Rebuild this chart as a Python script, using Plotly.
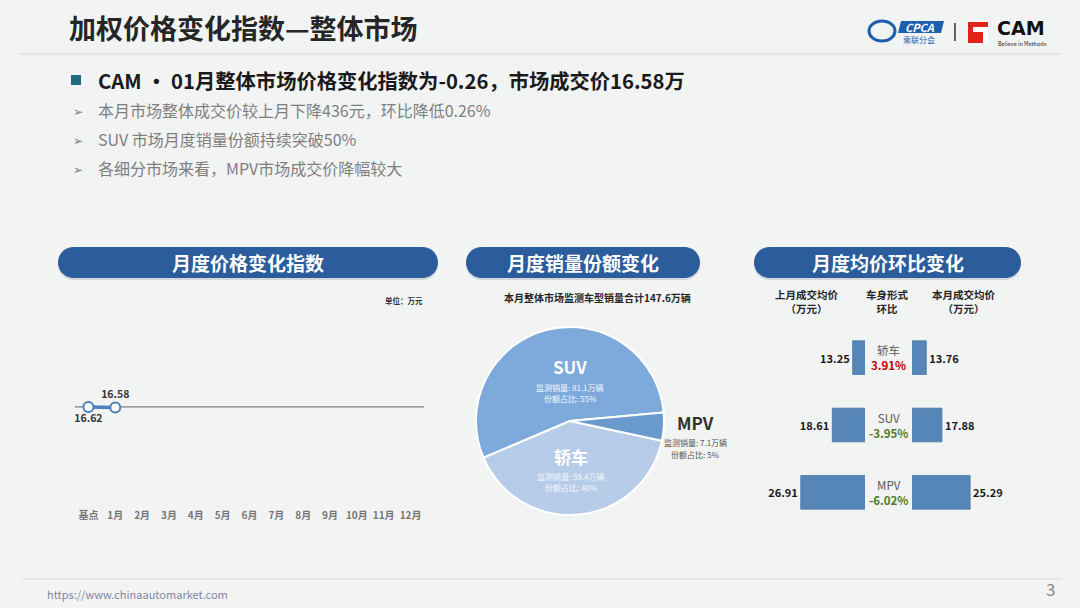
import math
import plotly.graph_objects as go

W, H = 1080, 608

# ---- data ----
months = ["基点", "1月", "2月", "3月", "4月", "5月", "6月", "7月", "8月", "9月", "10月", "11月", "12月"]
price_index = [16.62, 16.58]
base_price = 16.62

segments = ["SUV", "轿车", "MPV"]
sales = [81.1, 59.4, 7.1]
shares = [55, 40, 5]
total_sales = 147.6

body_types = ["轿车", "SUV", "MPV"]
last_month = [13.25, 18.61, 26.91]
this_month = [13.76, 17.88, 25.29]
mom_change = [3.91, -3.95, -6.02]

FONT = "Noto Sans CJK SC"
BLUE = "#2b5c9b"


def px(x):
    return x / W


def py(y):
    return 1 - y / H


def pill(x0, x1, y0, y1, n=18):
    # rounded header bar as a paper-coord path
    r = (y1 - y0) / 2
    cy = (y0 + y1) / 2
    pts = []
    for i in range(n + 1):
        a = -math.pi / 2 + math.pi * i / n
        pts.append((x1 - r + r * math.cos(a), cy + r * math.sin(a)))
    for i in range(n + 1):
        a = math.pi / 2 + math.pi * i / n
        pts.append((x0 + r + r * math.cos(a), cy + r * math.sin(a)))
    return "M " + " L ".join(f"{px(x):.5f},{py(y):.5f}" for x, y in pts) + " Z"


def note(x, y, text, size, color="#333333", anchor="center", bold=False, family=FONT):
    return dict(x=px(x), y=py(y), xref="paper", yref="paper", text=text, showarrow=False,
                xanchor=anchor, yanchor="middle",
                font=dict(family=family, size=size, color=color, weight="bold" if bold else "normal"))


fig = go.Figure()

# ---- monthly price index line ----
fig.add_trace(go.Scatter(
    x=list(range(len(price_index))), y=price_index, mode="lines+markers+text",
    text=[f"{v:.2f}" for v in price_index], textposition=["bottom center", "top center"],
    textfont=dict(family=FONT, size=10.5, color="#333333", weight="bold"),
    line=dict(color="#4f81bd", width=3.5),
    marker=dict(size=10, color="white", line=dict(color="#4a7ebb", width=2)),
    xaxis="x", yaxis="y", showlegend=False, cliponaxis=False))

# ---- sales share pie ----
fig.add_trace(go.Pie(
    labels=segments, values=sales, sort=False, direction="counterclockwise", rotation=-113,
    marker=dict(colors=["#7eaadb", "#b6cce8", "#6a9bcd"], line=dict(color="white", width=2)),
    textinfo="none", showlegend=False,
    domain=dict(x=[px(476), px(664)], y=[py(515), py(327)])))

# ---- average price butterfly ----
fig.add_trace(go.Bar(
    y=body_types, x=last_month, orientation="h", xaxis="x2", yaxis="y2",
    text=[f"{v:.2f}" for v in last_month], textposition="outside",
    textfont=dict(family=FONT, size=11, color="#1a1a1a", weight="bold"),
    marker=dict(color="#5686b8", line=dict(color="#4b77a5", width=0.8)), showlegend=False))
fig.add_trace(go.Bar(
    y=body_types, x=this_month, orientation="h", xaxis="x3", yaxis="y3",
    text=[f"{v:.2f}" for v in this_month], textposition="outside",
    textfont=dict(family=FONT, size=11, color="#1a1a1a", weight="bold"),
    marker=dict(color="#5686b8", line=dict(color="#4b77a5", width=0.8)), showlegend=False))

shapes = []
ann = []

# header area
ann.append(note(67, 27, "加权价格变化指数—整体市场", 27, "#262626", "left", True))
shapes.append(dict(type="line", xref="paper", yref="paper", x0=px(20), x1=px(1060), y0=py(54), y1=py(54),
                   line=dict(color="#d6d8da", width=1.2)))

# logos (drawn roughly)
shapes.append(dict(type="circle", xref="paper", yref="paper", x0=px(869), x1=px(895), y0=py(41), y1=py(21),
                   line=dict(color="#1f5fb0", width=3)))
shapes.append(dict(type="path", xref="paper", yref="paper",
                   path=f"M {px(901)},{py(21)} L {px(944)},{py(21)} L {px(941)},{py(33)} L {px(898)},{py(33)} Z",
                   fillcolor="#1f5fb0", line=dict(width=0)))
ann.append(note(920, 27, "<i>CPCA</i>", 11, "white", bold=True))
ann.append(note(919, 39, "乘联分会", 8, "#1f5fb0"))
shapes.append(dict(type="line", xref="paper", yref="paper", x0=px(955), x1=px(955), y0=py(23), y1=py(41),
                   line=dict(color="#333333", width=1.5)))
shapes.append(dict(type="rect", xref="paper", yref="paper", x0=px(968), x1=px(988), y0=py(43), y1=py(22),
                   fillcolor="#e0231b", line=dict(width=0)))
shapes.append(dict(type="path", xref="paper", yref="paper",
                   path=f"M {px(973)},{py(27)} L {px(988)},{py(27)} L {px(988)},{py(43)} L {px(983)},{py(43)} "
                        f"L {px(983)},{py(32)} L {px(973)},{py(32)} Z",
                   fillcolor="white", line=dict(width=0)))
ann.append(note(995, 28, "CAM", 19, "#111111", "left", True, family="DejaVu Sans"))
ann.append(note(996, 44, "Believe in Methods", 5.5, "#222222", "left"))

# summary text
shapes.append(dict(type="rect", xref="paper", yref="paper", x0=px(71), x1=px(81), y0=py(85), y1=py(75),
                   fillcolor="#1f6d7f", line=dict(width=0)))
ann.append(note(96, 80, "CAM • 01月整体市场价格变化指数为-0.26，市场成交价16.58万", 20.3, "#1a1a1a", "left", True))
sub_points = ["本月市场整体成交价较上月下降436元，环比降低0.26%",
              "SUV 市场月度销量份额持续突破50%",
              "各细分市场来看，MPV市场成交价降幅较大"]
for i, s in enumerate(sub_points):
    yy = 110 + 29 * i
    ann.append(note(71, yy, "➢", 12, "#7f7f7f", "left"))
    ann.append(note(96, yy, s, 16, "#7f7f7f", "left"))

# section pills
for (x0, x1, label) in [(58, 438, "月度价格变化指数"), (466, 700, "月度销量份额变化"), (754, 1021, "月度均价环比变化")]:
    shapes.append(dict(type="path", xref="paper", yref="paper", path=pill(x0, x1, 249, 280),
                       fillcolor="rgba(120,130,140,0.25)", line=dict(width=0)))
    shapes.append(dict(type="path", xref="paper", yref="paper", path=pill(x0, x1, 247, 278),
                       fillcolor=BLUE, line=dict(width=0)))
    ann.append(note((x0 + x1) / 2, 262, label, 19, "white", bold=True))

# line chart extras
ann.append(note(425, 300, "单位：万元", 7.5, "#333333", "right", True))
shapes.append(dict(type="line", xref="x domain", yref="y", x0=0, x1=1, y0=base_price, y1=base_price,
                   line=dict(color="#7f7f7f", width=1.3), layer="below"))

# pie labels
ann.append(note(597, 298, f"本月整体市场监测车型销量合计{total_sales}万辆", 10, "#262626", bold=True))
pie_pos = {"SUV": (570, 366, 387, 398, "white"), "轿车": (571, 456, 476, 487, "white"),
           "MPV": (695, 422, 443, 454, "#333333")}
for seg, val, sh in zip(segments, sales, shares):
    x, y0, y1, y2, c = pie_pos[seg]
    sub_c = "#f4f8fc" if c == "white" else "#555555"
    ann.append(note(x, y0, seg, 17, c, bold=True))
    ann.append(note(x, y1, f"监测销量: {val}万辆", 8, sub_c))
    ann.append(note(x, y2, f"份额占比: {sh}%", 8, sub_c))

# butterfly headers and centre labels
ann.append(note(807, 301, "上月成交均价<br>（万元）", 10.5, "#262626", bold=True))
ann.append(note(887, 301, "车身形式<br>环比", 10.5, "#262626", bold=True))
ann.append(note(964, 301, "本月成交均价<br>（万元）", 10.5, "#262626", bold=True))
for name, chg in zip(body_types, mom_change):
    c = "#c00000" if chg > 0 else "#4f7a28"
    ann.append(dict(x=px(888), y=name, xref="paper", yref="y2", showarrow=False,
                    xanchor="center", yanchor="middle",
                    text=f"{name}<br><b><span style='color:{c}'>{chg:.2f}%</span></b>",
                    font=dict(family=FONT, size=11.5, color="#595959")))

# footer
shapes.append(dict(type="line", xref="paper", yref="paper", x0=px(22), x1=px(1062), y0=py(579), y1=py(579),
                   line=dict(color="#d6d8da", width=1.2)))
ann.append(note(45, 594, "https://www.chinaautomarket.com", 11, "#7d8aa3", "left"))
ann.append(note(1050, 588, "3", 17, "#8a8a8a", "center"))

fig.update_layout(
    width=W, height=H, margin=dict(l=0, r=0, t=0, b=0),
    paper_bgcolor="#f2f3f3", plot_bgcolor="rgba(0,0,0,0)",
    font=dict(family=FONT), bargap=0.5,
    shapes=shapes, annotations=ann,
    xaxis=dict(domain=[px(75), px(424)], range=[-0.5, 12.5], tickvals=list(range(len(months))),
               ticktext=months, showgrid=False, zeroline=False, showline=False, ticks="",
               tickfont=dict(family=FONT, size=10, color="#767676", weight="bold"), fixedrange=True),
    yaxis=dict(domain=[py(508), py(300)], range=[8.7, 25], visible=False),
    xaxis2=dict(domain=[px(740), px(865)], range=[42.9, 10], visible=False),
    yaxis2=dict(domain=[py(526), py(324)], anchor="x2", type="category", autorange="reversed", visible=False),
    xaxis3=dict(domain=[px(912), px(1030)], range=[10, 41.05], visible=False),
    yaxis3=dict(domain=[py(526), py(324)], anchor="x3", matches="y2", visible=False),
)

fig.write_html("out.html", config={"displayModeBar": False},
               post_script="document.body.style.margin='0px';")
